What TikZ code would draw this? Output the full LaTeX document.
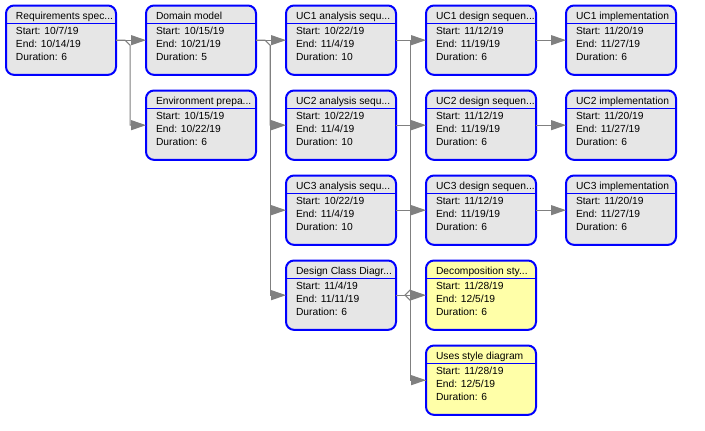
\documentclass[tikz,border=0pt]{standalone}
\usepackage{fontspec}
\setmainfont{Liberation Sans}
\usetikzlibrary{arrows.meta,calc}
\definecolor{boxgray}{HTML}{E6E6E6}
\definecolor{boxyellow}{HTML}{FFFFA8}
\definecolor{boxblue}{HTML}{0000FF}
\definecolor{conngray}{HTML}{808080}
\tikzset{
  taskframe/.style={draw=boxblue, line width=1.5pt, rounded corners=6pt,
    fill=#1, minimum width=82.5pt, minimum height=52pt, inner sep=0pt, outer sep=0pt},
  sepline/.style={draw=boxblue, line width=0.75pt},
  txt/.style={inner sep=0pt, outer sep=0pt, font=\fontsize{7.7}{9}\selectfont},
  wire/.style={draw=conngray, line width=0.75pt},
  conn/.style={wire, -{Triangle[length=11.25pt, width=7.5pt, fill=conngray, color=conngray]}},
}
\newcommand\taskbox[8]{%
  \node[taskframe=#8, anchor=north west] (#1) at (#2,#3) {};
  \draw[sepline] (#2,#3+17.5) -- (#2+110,#3+17.5);
  \node[txt, anchor=base west] (#1-t) at (#2+10,#3+13.5) {#4};
  \node[txt, anchor=base west] (#1-s) at (#2+10,#3+28.5) {Start: #5};
  \node[txt, anchor=base west] (#1-e) at (#2+10,#3+41.5) {End: #6};
  \node[txt, anchor=base west] (#1-d) at (#2+10,#3+54.5) {Duration: #7};
}
\begin{document}
\begin{tikzpicture}[x=0.75pt,y=-0.75pt]
\useasboundingbox (0,0) rectangle (705,430);
% column 1
\taskbox{req}{6}{5.5}{Requirements spec...}{10/7/19}{10/14/19}{6}{boxgray}
% column 2
\taskbox{dom}{146}{5.5}{Domain model}{10/15/19}{10/21/19}{5}{boxgray}
\taskbox{env}{146}{90.5}{Environment prepa...}{10/15/19}{10/22/19}{6}{boxgray}
% column 3
\taskbox{uca1}{286}{5.5}{UC1 analysis sequ...}{10/22/19}{11/4/19}{10}{boxgray}
\taskbox{uca2}{286}{90.5}{UC2 analysis sequ...}{10/22/19}{11/4/19}{10}{boxgray}
\taskbox{uca3}{286}{175.5}{UC3 analysis sequ...}{10/22/19}{11/4/19}{10}{boxgray}
\taskbox{dcd}{286}{260.5}{Design Class Diagr...}{11/4/19}{11/11/19}{6}{boxgray}
% column 4
\taskbox{ucd1}{426}{5.5}{UC1 design sequen...}{11/12/19}{11/19/19}{6}{boxgray}
\taskbox{ucd2}{426}{90.5}{UC2 design sequen...}{11/12/19}{11/19/19}{6}{boxgray}
\taskbox{ucd3}{426}{175.5}{UC3 design sequen...}{11/12/19}{11/19/19}{6}{boxgray}
\taskbox{dec}{426}{260.5}{Decomposition sty...}{11/28/19}{12/5/19}{6}{boxyellow}
\taskbox{uses}{426}{345.5}{Uses style diagram}{11/28/19}{12/5/19}{6}{boxyellow}
% column 5
\taskbox{uci1}{566}{5.5}{UC1 implementation}{11/20/19}{11/27/19}{6}{boxgray}
\taskbox{uci2}{566}{90.5}{UC2 implementation}{11/20/19}{11/27/19}{6}{boxgray}
\taskbox{uci3}{566}{175.5}{UC3 implementation}{11/20/19}{11/27/19}{6}{boxgray}

% connectors column 1 -> 2
\draw[conn] (req.east) -- (dom.west);
\draw[conn] (req.east) -- ++(9,0) -- ++(5,5) |- (env.west);
% connectors column 2 -> 3
\draw[conn] (dom.east) -- (uca1.west);
\draw[conn] (dom.east) -- ++(9,0) -- ++(5,5) |- (uca2.west);
\draw[conn] (dom.east) ++(14,5) |- (uca3.west);
\draw[conn] (dom.east) ++(14,5) |- (dcd.west);
% connectors column 3 -> 4
\coordinate (bus3) at ($(uca1.east)+(14,0)$);
\draw[conn] (uca1.east) -- (ucd1.west);
\draw[conn] (uca2.east) -- (ucd2.west);
\draw[conn] (uca3.east) -- (ucd3.west);
\draw[wire] (bus3) |- (uses.west);
\draw[wire, fill=white] ($(dcd.east)+(9,0)$) -- ++(5,-5) -- ++(5,5) -- ++(-5,5) -- cycle;
\draw[wire] (bus3) -- ($(dcd.east)+(14,0)$);
\draw[conn] (dcd.east) -- (dec.west);
\draw[conn] (bus3) |- (uses.west);
% connectors column 4 -> 5
\draw[conn] (ucd1.east) -- (uci1.west);
\draw[conn] (ucd2.east) -- (uci2.west);
\draw[conn] (ucd3.east) -- (uci3.west);
\end{tikzpicture}
\end{document}
